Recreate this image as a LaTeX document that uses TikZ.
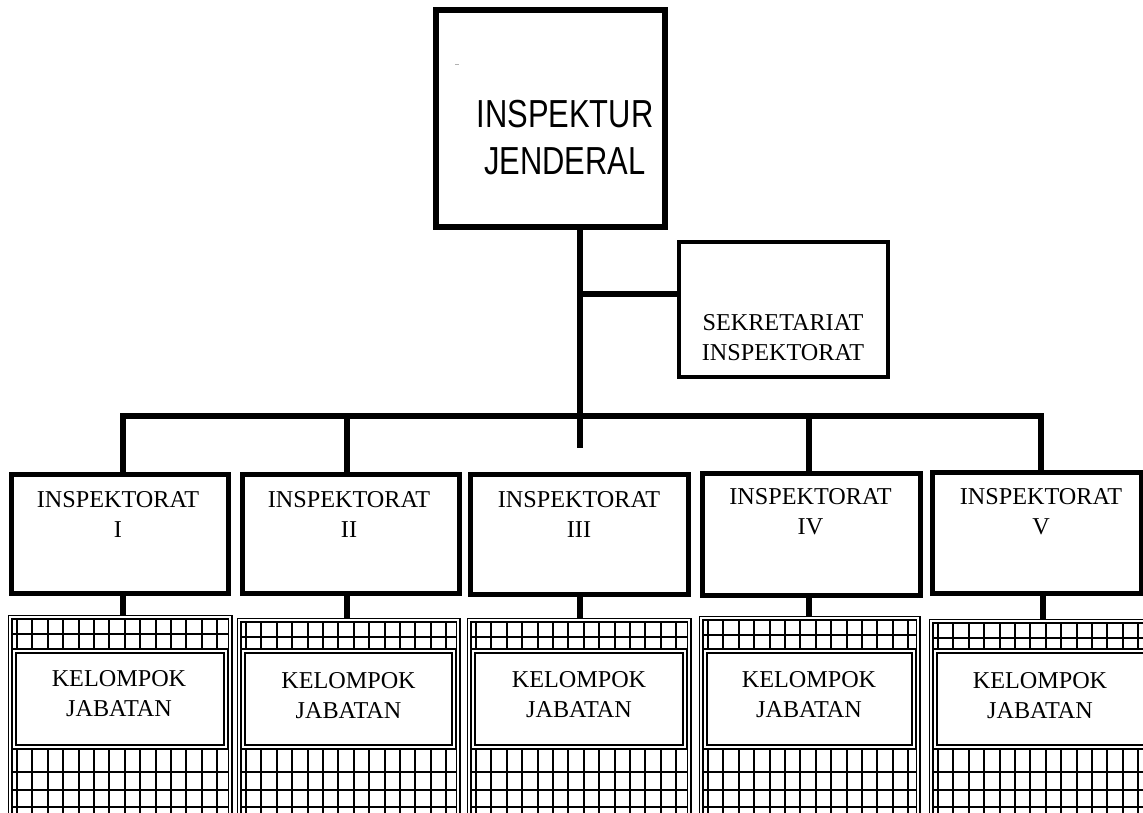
\documentclass[tikz,border=0pt]{standalone}
\usepackage{fontspec}
\setmainfont{Liberation Serif}
\newfontfamily\jsans[FakeStretch=0.79]{Liberation Sans}
\usetikzlibrary{fit}
\tikzset{
  conn/.style={line width=5.5pt},
  ibox/.style={draw, line width=5pt, inner sep=0pt},
  stext/.style={font=\fontsize{24.2}{30}\selectfont, align=center, inner sep=0pt},
  jtext/.style={font=\jsans\fontsize{39.1}{47}\selectfont, align=center, inner sep=0pt},
  gout/.style={draw, double, line width=1.8pt, double distance=1.4pt, inner sep=0pt},
  wbox/.style={draw, double, fill=white, line width=2.2pt, double distance=1.2pt, inner sep=0pt},
  gridln/.style={line width=2pt},
}
% #1 name, #2 left, #3 right, #4 top, #5 text x, #6 text y
\newcommand\KGroup[6]{%
  \begin{scope}
    \clip (#2+2,#4+2) rectangle (#3-2,830);
    \foreach \k in {0,...,15}{\draw[gridln] (#2+7+15.4*\k,#4) -- (#2+7+15.4*\k,830);}
    \foreach \gy in {#4+17,772,790,807}{\draw[gridln] (#2,\gy) -- (#3,\gy);}
  \end{scope}
  \node[gout, fit={(#2,#4) (#3,830)}] (#1) {};
  \node[wbox, fit={(#2+4,651) (#3-4,747)}] (#1w) {};
  \node[stext] (#1t) at (#5,#6) {KELOMPOK\\JABATAN};
}
\begin{document}
\begin{tikzpicture}[x=1pt,y=-1pt]
\useasboundingbox (0,0) rectangle (1143,812);
\clip (0,0) rectangle (1143,812);

% top box
\node[ibox, line width=5.5pt, minimum width=229pt, minimum height=217pt] (top) at (550.5,118.5) {};
\node[jtext] (topt) at (565,137.5) {INSPEKTUR\\JENDERAL};
\draw[gray!60, line width=0.8pt] (455,64) -- (459,64);

% sekretariat
\node[ibox, line width=4.5pt, minimum width=209pt, minimum height=135pt] (sek) at (783.5,309.5) {};
\node[stext] (sekt) at (783,338) {SEKRETARIAT\\INSPEKTORAT};

% inspektorat boxes
\node[ibox, minimum width=217pt, minimum height=119pt] (i1) at (119.5,533.5) {};
\node[ibox, minimum width=217pt, minimum height=119pt] (i2) at (350.5,533.5) {};
\node[ibox, minimum width=218pt, minimum height=120pt] (i3) at (579,534) {};
\node[ibox, minimum width=218pt, minimum height=121.5pt] (i4) at (811,534.25) {};
\node[ibox, minimum width=209pt, minimum height=121pt] (i5) at (1036.5,532.5) {};
\node[stext] (i1t) at (118,514) {INSPEKTORAT\\I};
\node[stext] (i2t) at (349,514) {INSPEKTORAT\\II};
\node[stext] (i3t) at (579,514) {INSPEKTORAT\\III};
\node[stext] (i4t) at (810.5,511.5) {INSPEKTORAT\\IV};
\node[stext] (i5t) at (1041,512) {INSPEKTORAT\\V};

% connectors
\coordinate (tend) at (580,448);
\coordinate (br) at (580,294);
\coordinate (barL) at (123,416);
\coordinate (barR) at (1041,416);
\coordinate (c2) at (347,416);
\coordinate (c4) at (809,416);
\draw[conn] (tend |- top.south) -- (tend);
\draw[conn] (br) -- (sek.west |- br);
\draw[conn] (barL |- i1.north) -- (barL) -- (barR) -- (barR |- i5.north);
\draw[conn] (c2) -- (c2 |- i2.north);
\draw[conn] (c4) -- (c4 |- i4.north);

% kelompok jabatan groups
\KGroup{g1}{10}{230}{617}{119}{694}
\KGroup{g2}{239}{458}{620}{348.5}{695.5}
\KGroup{g3}{469}{689}{620}{579}{695}
\KGroup{g4}{701}{918}{618}{809}{694.5}
\KGroup{g5}{931}{1160}{621}{1040}{695.5}

% lower connectors
\coordinate (d1) at (123,0);
\coordinate (d2) at (347,0);
\coordinate (d3) at (580,0);
\coordinate (d4) at (809,0);
\coordinate (d5) at (1043,0);
\draw[conn] (d1 |- i1.south) -- (d1 |- g1.north);
\draw[conn] (d2 |- i2.south) -- (d2 |- g2.north);
\draw[conn] (d3 |- i3.south) -- (d3 |- g3.north);
\draw[conn] (d4 |- i4.south) -- (d4 |- g4.north);
\draw[conn] (d5 |- i5.south) -- (d5 |- g5.north);
\end{tikzpicture}
\end{document}
